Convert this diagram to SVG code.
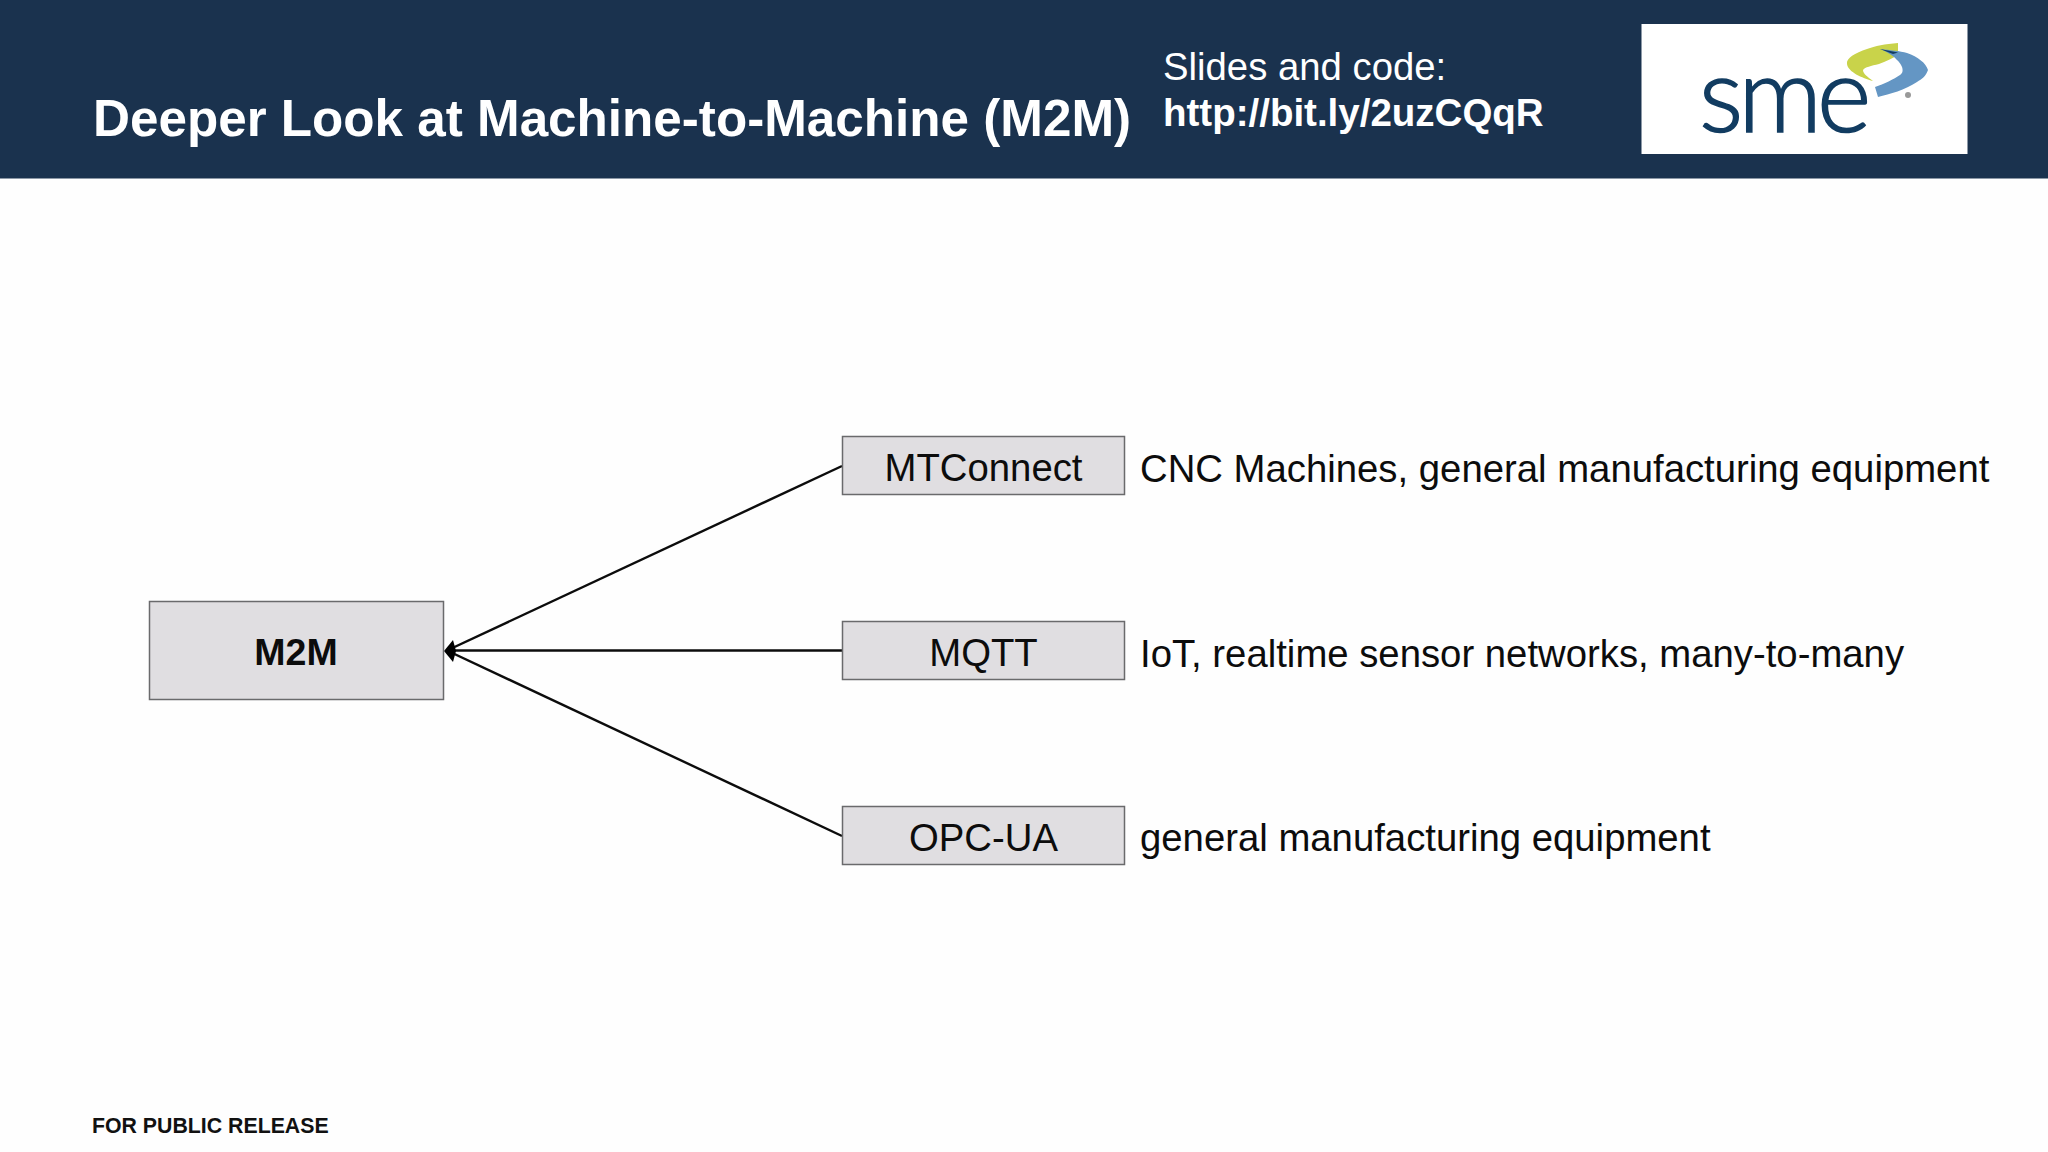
<svg xmlns="http://www.w3.org/2000/svg" width="2048" height="1152" viewBox="0 0 2048 1152">
<style>
text{font-family:"Liberation Sans",Arial,sans-serif}
.box{fill:#e0dee1;stroke:#6a6a6c;stroke-width:1.5}
.lbl{font-size:38.3px;fill:#0c0c0c;text-anchor:middle}
.desc{font-size:38.3px;fill:#0c0c0c}
.hd{fill:#fff}
.con{stroke:#0c0c0c;stroke-width:2.4;fill:none}
</style>
<rect width="2048" height="1152" fill="#fefefe"/>
<g id="header">
<rect width="2048" height="178.500" fill="#1a324e"/>
<text class="hd" x="93" y="136" font-size="51.2" font-weight="700">Deeper Look at Machine-to-Machine (M2M)</text>
<text class="hd" x="1163" y="80" font-size="38.3">Slides and code:</text>
<text class="hd" x="1163" y="126" font-size="38.5" font-weight="700">http://bit.ly/2uzCQqR</text>
</g>
<g id="logo">
<rect x="1641.500" y="24" width="326" height="130" fill="#fff"/>
<text x="1699" y="132" font-size="104" style="font-family:Lato,sans-serif;font-weight:300" letter-spacing="-5" fill="#123c61" stroke="#123c61" stroke-width="1.6">sme</text>
<path d="M1898 43C1885 44 1875 46 1867 49C1855 53 1846 58 1847 64C1848 72 1862 78 1873 81C1868 77 1863 74 1863 70C1865 67 1871 66 1879 64C1887 61 1893 58 1898 55Z" fill="#c9d34a"/>
<path d="M1880 49C1890 50 1900 51 1907 53C1918 57 1926 63 1928 70C1926 76 1922 79 1917 82C1905 90 1890 94 1878 97L1875 87C1884 84 1894 79 1900 75C1903 73 1903 70 1902 67C1900 62 1897 60 1894 57C1890 54 1886 51 1880 49Z" fill="#6496c4"/>
<path d="M1880 49L1898 52.500L1893 54Z" fill="#123c61"/>
<circle cx="1908" cy="95" r="3" fill="#999"/>
</g>
<g id="connectors">
<line class="con" x1="842" y1="466" x2="447" y2="650.500"/>
<line class="con" x1="842" y1="650.500" x2="447" y2="650.500"/>
<line class="con" x1="842" y1="836" x2="447" y2="650.500"/>
<path d="M444 651L453 640L456 651L453 662Z" fill="#000"/>
</g>
<g id="m2m">
<rect class="box" x="149.500" y="601.500" width="294" height="98"/>
<text x="296" y="665" font-size="37.5" font-weight="700" text-anchor="middle" fill="#0c0c0c">M2M</text>
</g>
<g id="mtconnect">
<rect class="box" x="842.500" y="436.500" width="282" height="58"/>
<text class="lbl" x="983.500" y="480.500">MTConnect</text>
<text class="desc" x="1140" y="482">CNC Machines, general manufacturing equipment</text>
</g>
<g id="mqtt">
<rect class="box" x="842.500" y="621.500" width="282" height="58"/>
<text class="lbl" x="983.500" y="666">MQTT</text>
<text class="desc" x="1140" y="667">IoT, realtime sensor networks, many-to-many</text>
</g>
<g id="opcua">
<rect class="box" x="842.500" y="806.500" width="282" height="58"/>
<text class="lbl" x="983.500" y="851">OPC-UA</text>
<text class="desc" x="1140" y="851">general manufacturing equipment</text>
</g>
<text x="92" y="1133" font-size="21.3" font-weight="700" fill="#111">FOR PUBLIC RELEASE</text>
</svg>
